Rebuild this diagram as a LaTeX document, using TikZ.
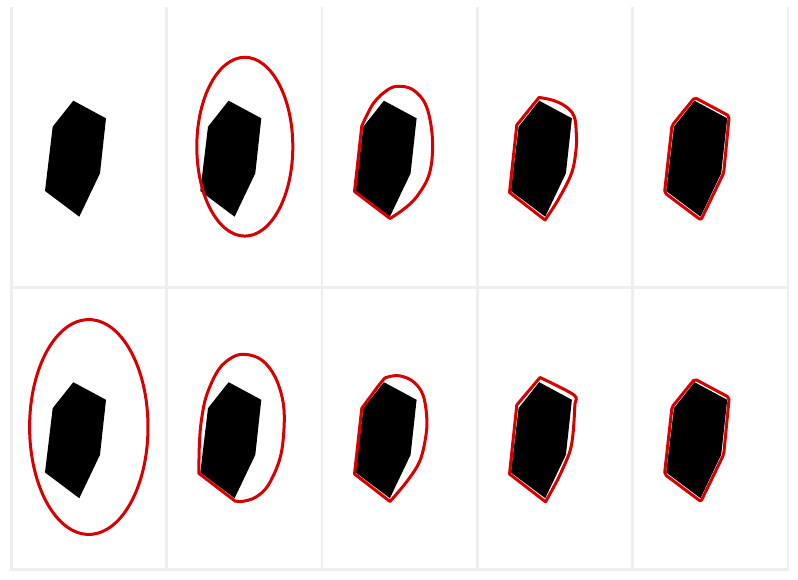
\documentclass[tikz,border=0pt]{standalone}
\definecolor{gridgray}{RGB}{238,238,238}
\definecolor{snakered}{RGB}{214,0,0}
\begin{document}
\begin{tikzpicture}[
    x=1pt,
    y=-1pt,
    line cap=round,
    line join=round,
    grid/.style={line width=2.6pt, draw=gridgray, line cap=rect},
    region/.style={fill=black},
    contour/.style={line width=3pt, draw=snakered}
]

% =========================================================
% Параметры сетки
% =========================================================

\def\xo{11.3}    % левая граница сетки
\def\dx{155.3}   % ширина ячейки
\def\dy{281.5}   % высота ячейки

\useasboundingbox (0,0) rectangle (798,580);

% =========================================================
% Линии сетки
% =========================================================

\foreach \i in {0,...,5}{
    \draw[grid] ({\xo+\i*\dx},8)--({\xo+\i*\dx},569.5);
}
\draw[grid] (\xo,287.5)--({\xo+5*\dx},287.5);
\draw[grid] (\xo,569.5)--({\xo+5*\dx},569.5);

% =========================================================
% Чёрная область в каждой ячейке
% =========================================================

\foreach \i in {0,...,4}{
    \foreach \j in {0,1}{
        \fill[region, shift={(\i*\dx,\j*\dy)}]
            (73.3,100.7)--(106,118.3)--(100,173.3)--
            (79.3,216.7)--(45,191)--(52.7,126.7)--cycle;
    }
}

% =========================================================
% Начальные контуры (эллипсы)
% =========================================================

\draw[contour] (244.8,146.7) ellipse [x radius=48, y radius=89.4];
\draw[contour] (88.8,427) ellipse [x radius=59.2, y radius=107.4];

% =========================================================
% Промежуточные контуры, верхний ряд
% =========================================================

\draw[contour]
    (390,218.5)--(354.5,191.5)--(361.8,126)
    --plot[smooth, tension=0.6]
    coordinates {
        (361.8,126) (373.3,103.5) (386.7,90.5) (398,86.3)
        (413.3,90) (426.5,106.7) (432.5,140) (429.5,173.3)
        (416.7,196.7) (403.3,209.5) (390,218.5)
    }--cycle;

\draw[contour]
    (545,220)--(509.5,192.5)--(516.8,125)--(539,97.5)
    --plot[smooth, tension=0.6]
    coordinates {
        (539,97.5) (552,100) (565,106) (574,116)
        (576.3,133.3) (576,150) (571.5,173.3) (558.3,199.5)
        (545,220)
    }--cycle;

% =========================================================
% Промежуточные контуры, нижний ряд
% =========================================================

\draw[contour]
    (235,501)--(198.8,473.3)
    --plot[smooth, tension=0.6]
    coordinates {
        (198.8,473.3) (199.5,441.7) (201.7,418.3)
        (206.7,395) (218.3,370) (231.7,357.7) (245,354.3)
        (261.7,360) (275,376.7) (283,401.7) (284,428.3)
        (280,458.3) (268.3,485) (256,497) (243,501.3) (235,501)
    }--cycle;

\draw[contour]
    (390,501.5)--(354.5,474)--(361.8,408.3)
    --plot[smooth, tension=0.6]
    coordinates {
        (361.8,408.3) (381.7,381.7) (388,377)
        (400,375.9) (413.3,381.7) (423,395) (426.8,418.3)
        (425.5,438.3) (419.5,461.7) (406.7,481.7) (390,501.5)
    }--cycle;

\draw[contour]
    (545.5,501.8)--(509.5,474)--(516.8,405)--(540,377.5)
    --plot[smooth, tension=0.5]
    coordinates {
        (540,377.5) (574,395) (574.8,405) (573.2,431.7)
        (569.8,451.7) (558.3,478.3) (545.5,501.8)
    }--cycle;

% =========================================================
% Итоговые контуры (по границе области)
% =========================================================

\foreach \j in {0,1}{
    \draw[contour, rounded corners=2pt, shift={(4*\dx,\j*\dy)}]
        (73.5,97.5)--(108,116)--(102.5,173)--
        (79.7,220)--(43.3,192.7)--(50.8,125.5)--cycle;
}

\end{tikzpicture}
\end{document}
